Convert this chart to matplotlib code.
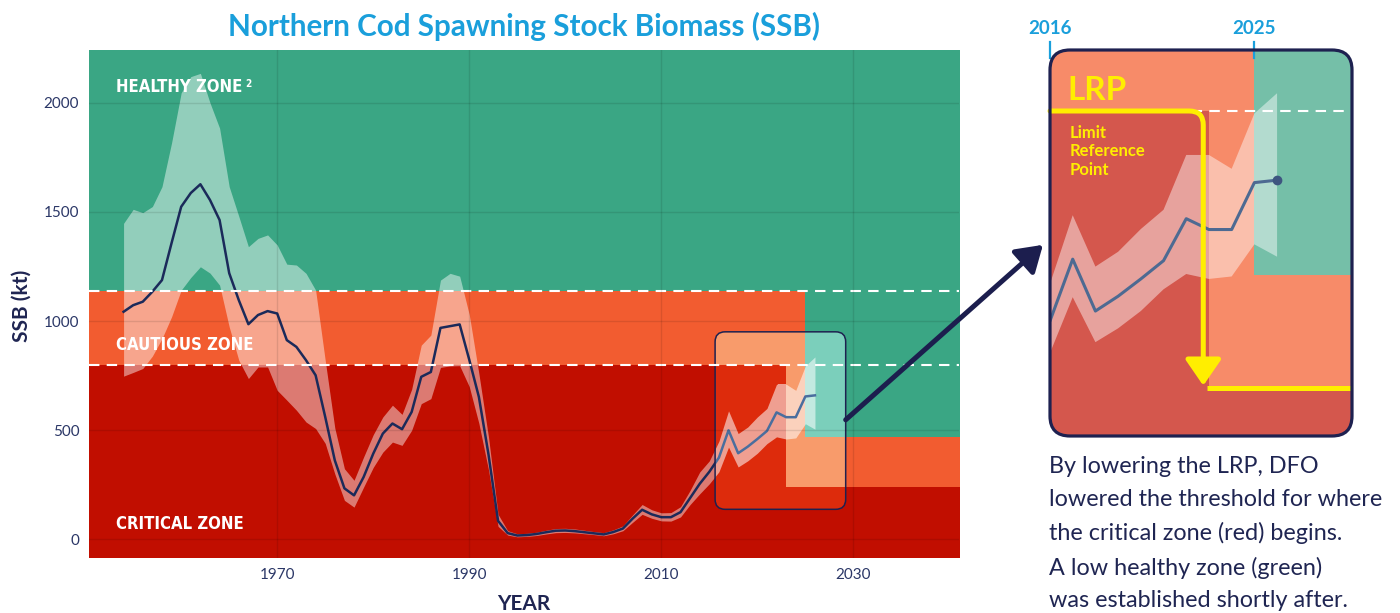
import matplotlib.pyplot as plt
import matplotlib.transforms as mtransforms
from matplotlib import font_manager as fm
from matplotlib.patches import FancyBboxPatch, ConnectionPatch

plt.rcParams['font.family'] = ['Lato', 'DejaVu Sans']

# ---- data (kt) ----
years = list(range(1954, 2027))
ssb = [1043, 1073, 1089, 1135, 1188, 1358, 1524, 1587, 1627, 1555,
       1463, 1220, 1096, 986, 1028, 1046, 1035, 913, 882, 821,
       752, 561, 362, 234, 202, 286, 393, 485, 531, 505,
       584, 745, 767, 969, 977, 985, 823, 653, 390, 85,
       29, 18, 20, 25, 33, 40, 41, 38, 33, 28,
       23, 34, 50, 95, 136, 115, 102, 102, 125, 190,
       255, 310, 375, 500, 395, 425, 460, 497, 582, 560,
       560, 655, 660]
ssb_low = [748, 765, 783, 840, 920, 1020, 1142, 1200, 1249, 1220,
           1165, 974, 821, 737, 790, 790, 683, 638, 592, 538,
           508, 440, 300, 179, 148, 240, 330, 400, 446, 431,
           500, 622, 645, 788, 795, 796, 700, 532, 320, 60,
           20, 12, 14, 18, 25, 31, 32, 30, 26, 22,
           17, 26, 40, 78, 115, 97, 85, 84, 103, 160,
           209, 255, 310, 423, 332, 360, 395, 439, 470, 460,
           465, 530, 505]
ssb_high = [1448, 1512, 1497, 1525, 1616, 1817, 2046, 2120, 2135, 2000,
            1884, 1616, 1480, 1341, 1379, 1395, 1349, 1261, 1257, 1219,
            1142, 820, 510, 324, 271, 378, 480, 561, 615, 573,
            688, 890, 936, 1188, 1219, 1206, 1030, 760, 470, 115,
            40, 26, 28, 33, 42, 50, 51, 48, 42, 36,
            31, 44, 62, 112, 160, 136, 122, 123, 150, 225,
            309, 360, 450, 589, 485, 515, 561, 600, 711, 711,
            683, 795, 836]

# zone limits per period
zone_start = [1940, 2023, 2025]
zone_end = [2023, 2025, 2050]
critical_top = [800, 240, 240]
cautious_top = [1140, 1140, 468]
dashed_levels = [1140, 800]

x_ticks = [1970, 1990, 2010, 2030]
y_ticks = [0, 500, 1000, 1500, 2000]
inset_ticks = [2016, 2025]

navy = '#1b2a5a'
tick_col = '#2b3767'
blue = '#1a9fdb'
yellow = '#ffee00'

main_cols = ('#c10e00', '#f25c30', '#3aa684')
box_cols = ('#dd2b0c', '#f89b6b', '#7bcfbb')
inset_cols = ('#d4574d', '#f78b69', '#75bfa8')


def narrow_bold():
    # look for any condensed / narrow bold face, otherwise Roboto
    for f in fm.fontManager.ttflist:
        w = f.weight if isinstance(f.weight, int) else fm.weight_dict.get(f.weight, 400)
        narrow = ('Narrow' in f.name or 'Condensed' in f.name
                  or f.stretch in ('condensed', 'semi-condensed', 'extra-condensed'))
        if narrow and w >= 600:
            return fm.FontProperties(fname=f.fname), 12
    return fm.FontProperties(family='Roboto', weight='bold'), 12


def draw_zones(ax, cols, ymin, ymax, clip=None, z=0):
    for s, e, c, k in zip(zone_start, zone_end, critical_top, cautious_top):
        parts = [ax.fill_between([s, e], ymin, c, color=cols[0], lw=0, zorder=z),
                 ax.fill_between([s, e], c, k, color=cols[1], lw=0, zorder=z),
                 ax.fill_between([s, e], k, ymax, color=cols[2], lw=0, zorder=z)]
        for p in parts:
            p.set_antialiased(False)
            if clip is not None:
                p.set_clip_path(clip)


def rounded(ax, x0, y0, x1, y1, r_px, transform, **kw):
    t = transform
    px_x = t.transform((1, 0))[0] - t.transform((0, 0))[0]
    px_y = t.transform((0, 1))[1] - t.transform((0, 0))[1]
    return FancyBboxPatch((x0, y0), x1 - x0, y1 - y0,
                          boxstyle=f"round,pad=0,rounding_size={r_px / px_x}",
                          mutation_aspect=px_x / px_y, transform=t, **kw)


fig = plt.figure(figsize=(14, 6.13), dpi=100)
W, H = 1400, 613

# ========== main chart ==========
ax = fig.add_axes([89 / W, 1 - 558 / H, 870 / W, 508 / H])
ymin, ymax = -85, 2242
ax.set_xlim(1950.4, 2041.0)
ax.set_ylim(ymin, ymax)

draw_zones(ax, main_cols, ymin, ymax)
ax.fill_between(years, ssb_low, ssb_high, color='white', alpha=0.45, lw=0, zorder=2)
ax.plot(years, ssb, color=navy, lw=1.8, zorder=3)

# highlighted box 2016-2029
box = rounded(ax, 2015.6, 138, 2029.2, 951, 10, ax.transData,
              facecolor='none', edgecolor='#1e2150', lw=1.1, zorder=6)
ax.add_patch(box)
draw_zones(ax, box_cols, ymin, ymax, clip=box, z=4)
band2 = ax.fill_between(years, ssb_low, ssb_high, color='white', alpha=0.55, lw=0, zorder=4.5)
band2.set_clip_path(box)
ln2, = ax.plot(years, ssb, color='#4a6e9e', lw=1.8, zorder=4.6)
ln2.set_clip_path(box)

for lvl in dashed_levels:
    ax.axhline(lvl, color='white', lw=1.5, ls=(0, (5, 3.5)), zorder=6.5)
for xt in x_ticks:
    ax.axvline(xt, color='black', alpha=0.1, lw=1, zorder=7)
for yt in y_ticks:
    ax.axhline(yt, color='black', alpha=0.1, lw=1, zorder=7)

ax.set_xticks(x_ticks)
ax.set_yticks(y_ticks)
ax.tick_params(length=0, labelsize=11, colors=tick_col, pad=7)
for sp in ax.spines.values():
    sp.set_visible(False)

zfont, zsize = narrow_bold()
zone_kw = dict(fontproperties=zfont, color='white', zorder=8)
hz = ax.text(1953.2, 2049, 'HEALTHY ZONE', **zone_kw)
hz.set_fontsize(zsize)
sup = ax.annotate('2', xy=(1, 1), xycoords=hz, xytext=(2, -0.5), textcoords='offset points',
                  va='top', ha='left', fontproperties=zfont, color='white', zorder=8)
sup.set_fontsize(zsize * 0.6)
for label, yv in [('CAUTIOUS ZONE', 869), ('CRITICAL ZONE', 47)]:
    t = ax.text(1953.2, yv, label, **zone_kw)
    t.set_fontsize(zsize)

fig.text(524 / W, 1 - 36 / H, 'Northern Cod Spawning Stock Biomass (SSB)',
         ha='center', va='baseline', fontsize=21.3, fontweight='bold', color=blue)
fig.text(22 / W, 1 - 306 / H, 'SSB (kt)', rotation=90, ha='center', va='center',
         fontsize=15, fontweight='bold', color='#1f2552')
fig.text(524 / W, 1 - 610 / H, 'YEAR', ha='center', va='baseline',
         fontsize=15, fontweight='bold', color='#1f2552')

# ========== zoomed inset ==========
ax2 = fig.add_axes([1050 / W, 1 - 436 / H, 302 / W, 386 / H])
ax2.set_xlim(2016, 2029.3)
ax2.set_ylim(142, 923.5)
ax2.axis('off')

frame = rounded(ax2, 0, 0, 1, 1, 20, ax2.transAxes,
                facecolor='none', edgecolor='#1e2150', lw=2.3, zorder=10)
frame.set_clip_on(False)
ax2.add_patch(frame)

draw_zones(ax2, inset_cols, 0, 3000, clip=frame)
b3 = ax2.fill_between(years, ssb_low, ssb_high, color='white', alpha=0.45, lw=0, zorder=2)
b3.set_clip_path(frame)
l3, = ax2.plot(years, ssb, color='#4d6a92', lw=2.2, zorder=3)
l3.set_clip_path(frame)
ax2.plot(years[-1], ssb[-1], 'o', color='#3e5580', ms=6, zorder=3)
d3 = ax2.axhline(800, color='white', lw=1.5, ls=(0, (5, 3.5)), zorder=4)
d3.set_clip_path(frame)

# lowered LRP
ax2.annotate('', xy=(2022.75, 244), xytext=(2016.0, 800),
             arrowprops=dict(arrowstyle='-|>,head_length=0.8,head_width=0.55',
                             connectionstyle='angle,angleA=0,angleB=90,rad=14',
                             color=yellow, lw=3.6, shrinkA=0, shrinkB=0,
                             mutation_scale=20), zorder=5)
ax2.plot([2022.9, 2029.3], [240, 240], color=yellow, lw=3.6,
         solid_capstyle='butt', zorder=5)
ax2.text(2016.75, 822, 'LRP', fontsize=24, fontweight='bold', color=yellow,
         va='baseline', zorder=6)
ax2.text(2016.85, 772, 'Limit\nReference\nPoint', fontsize=12, fontweight='bold',
         color=yellow, va='top', linespacing=1.2, zorder=6)

blend = mtransforms.blended_transform_factory(ax2.transData, ax2.transAxes)
for t in inset_ticks:
    ax2.plot([t, t], [0.98, 1.02], transform=blend, color=blue, lw=1.6, clip_on=False)
    ax2.text(t, 1.055, str(t), transform=blend, ha='center', va='center',
             fontsize=13.5, fontweight='bold', color=blue)

con = ConnectionPatch(xyA=(2029.2, 548), coordsA=ax.transData,
                      xyB=(2015.69, 529), coordsB=ax2.transData,
                      arrowstyle='-|>,head_length=0.7,head_width=0.45', mutation_scale=22,
                      lw=3.6, color='#1c1e4e', shrinkA=0, shrinkB=0)
fig.add_artist(con)

fig.text(1049 / W, 1 - 456 / H,
         'By lowering the LRP, DFO\nlowered the threshold for where\n'
         'the critical zone (red) begins.\nA low healthy zone (green)\n'
         'was established shortly after.',
         ha='left', va='top', fontsize=16.8, color='#1f2552', linespacing=1.685)

fig.savefig('out.png', dpi=100)
